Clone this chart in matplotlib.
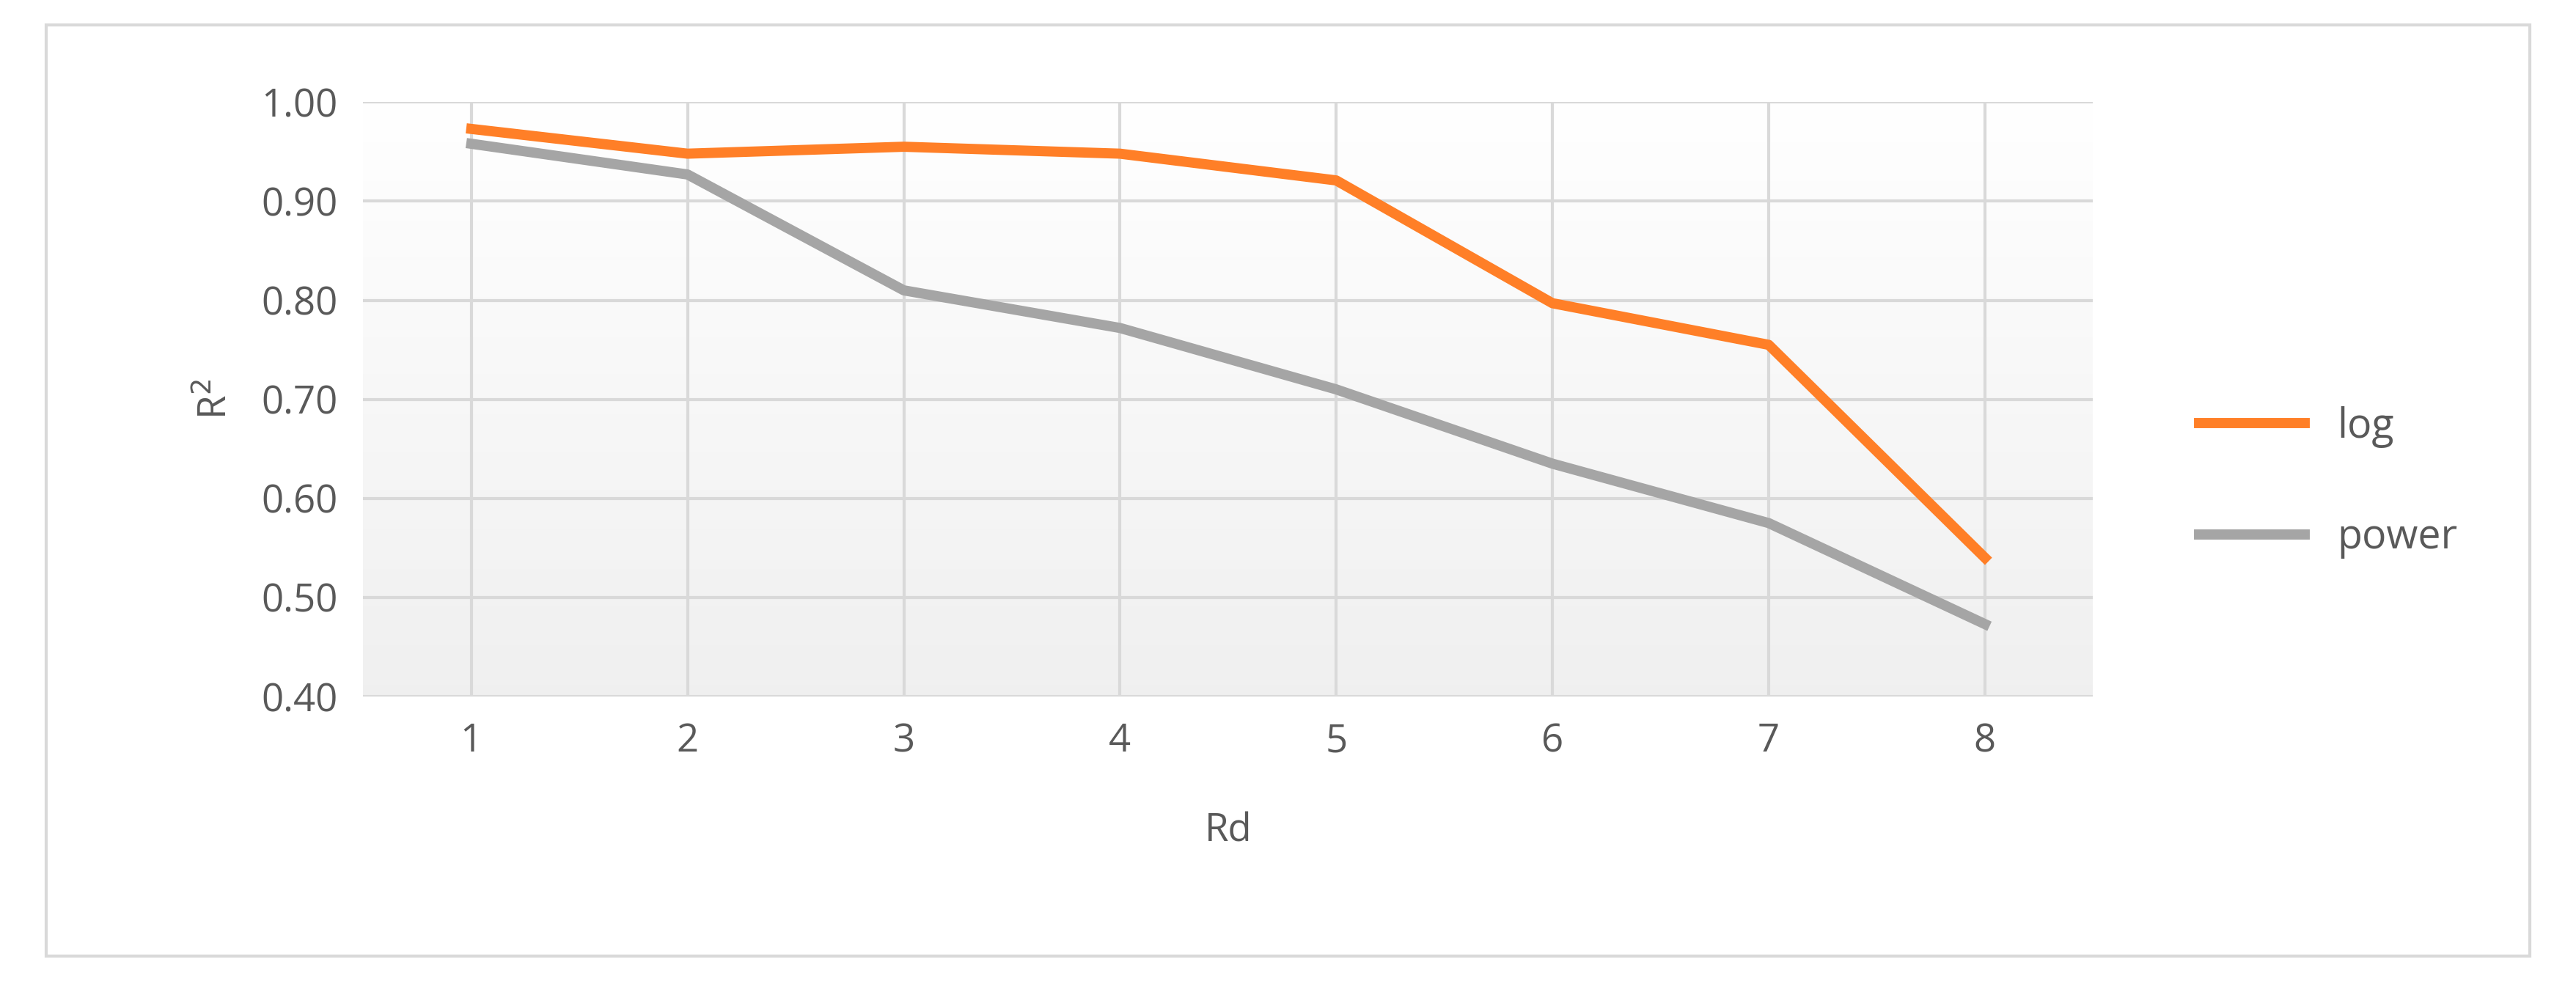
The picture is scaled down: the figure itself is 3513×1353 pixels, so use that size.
import numpy as np
import matplotlib.pyplot as plt
from matplotlib.patches import Rectangle

rd = [1, 2, 3, 4, 5, 6, 7, 8]
log_r2 = [0.973, 0.948, 0.955, 0.948, 0.921, 0.797, 0.755, 0.540]
power_r2 = [0.958, 0.927, 0.810, 0.772, 0.710, 0.635, 0.575, 0.473]
yticks = [0.40, 0.50, 0.60, 0.70, 0.80, 0.90, 1.00]

TXT = '#595959'
plt.rcParams['font.family'] = ['Open Sans', 'DejaVu Sans']

fig = plt.figure(figsize=(35.13, 13.53), dpi=100)
fig.patches.append(Rectangle((28 / 1568, 1 - 582 / 604), 1512 / 1568, 567 / 604,
                             transform=fig.transFigure, fill=False,
                             edgecolor='#d9d9d9', linewidth=3))
ax = fig.add_axes([0.141, 0.298, 0.6715, 0.599])

# background gradient: white at top to light grey at bottom
t = np.linspace(0.0, 1.0, 256).reshape(-1, 1, 1)
top = np.array([1.0, 1.0, 1.0])
bot = np.array([0.94, 0.94, 0.94])
grad = top * (1 - t) + bot * t
ax.imshow(grad, extent=(0.5, 8.5, 0.40, 1.00), aspect='auto',
          origin='upper', zorder=0)

ax.plot(rd, log_r2, color='#ff7f27', linewidth=10, label='log', zorder=3)
ax.plot(rd, power_r2, color='#a5a5a5', linewidth=10, label='power', zorder=3)

ax.set_xlim(0.5, 8.5)
ax.set_ylim(0.40, 1.00)
ax.set_yticks(yticks)
ax.set_yticklabels([f'{v:.2f}' for v in yticks])
ax.set_xticks(rd)
ax.grid(True, color='#d9d9d9', linewidth=3, zorder=1)
ax.set_axisbelow(True)
for s in ax.spines.values():
    s.set_visible(False)
ax.tick_params(length=0, labelsize=38, colors=TXT, pad=25)
ax.set_xlabel('Rd', fontsize=38, color=TXT, labelpad=50)
ax.set_ylabel('R$^2$', fontsize=38, color=TXT, labelpad=25)

ax.legend(loc='center left', bbox_to_anchor=(1.04, 0.36), frameon=False,
          fontsize=40, labelcolor=TXT, handlelength=2.6, labelspacing=1.7)

fig.savefig('out.png', dpi=100)
